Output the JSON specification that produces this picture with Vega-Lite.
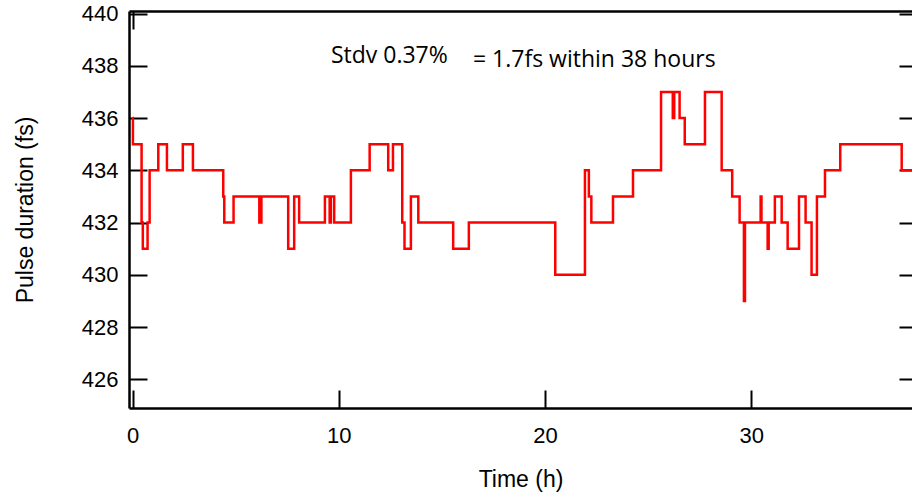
{
  "$schema": "https://vega.github.io/schema/vega-lite/v6.json",
  "autosize": {"type": "none"},
  "padding": {"left": 129, "top": 11, "right": 0, "bottom": 87},
  "width": 783,
  "height": 397,
  "background": "white",
  "config": {
    "view": {"stroke": null},
    "axis": {
      "grid": false,
      "domainColor": "black",
      "domainWidth": 2.5,
      "tickColor": "black",
      "tickWidth": 2,
      "labelFont": "Liberation Sans",
      "labelFontSize": 22,
      "labelColor": "black",
      "titleFont": "Liberation Sans",
      "titleFontSize": 23,
      "titleFontWeight": "normal",
      "titleColor": "black"
    }
  },
  "datasets": {
    "pulse": [
      {"t": 0, "v": 436}, {"t": 0.02, "v": 435}, {"t": 0.44, "v": 432}, {"t": 0.5, "v": 431},
      {"t": 0.73, "v": 432}, {"t": 0.83, "v": 434}, {"t": 1.25, "v": 435}, {"t": 1.67, "v": 434},
      {"t": 2.44, "v": 435}, {"t": 2.93, "v": 434}, {"t": 4.4, "v": 433}, {"t": 4.45, "v": 432},
      {"t": 4.9, "v": 433}, {"t": 6.15, "v": 432}, {"t": 6.25, "v": 433}, {"t": 7.55, "v": 431},
      {"t": 7.84, "v": 433}, {"t": 8.08, "v": 432}, {"t": 9.33, "v": 433}, {"t": 9.56, "v": 432},
      {"t": 9.62, "v": 433}, {"t": 9.78, "v": 432}, {"t": 10.59, "v": 434}, {"t": 11.5, "v": 435},
      {"t": 12.4, "v": 434}, {"t": 12.63, "v": 435}, {"t": 13.08, "v": 432}, {"t": 13.19, "v": 431},
      {"t": 13.5, "v": 433}, {"t": 13.86, "v": 432}, {"t": 15.55, "v": 431}, {"t": 16.31, "v": 432},
      {"t": 20.5, "v": 430}, {"t": 21.94, "v": 434}, {"t": 22.13, "v": 433}, {"t": 22.25, "v": 432},
      {"t": 23.3, "v": 433}, {"t": 24.27, "v": 434}, {"t": 25.63, "v": 437}, {"t": 26.2, "v": 436},
      {"t": 26.27, "v": 437}, {"t": 26.53, "v": 436}, {"t": 26.78, "v": 435}, {"t": 27.76, "v": 437},
      {"t": 28.57, "v": 434}, {"t": 29.08, "v": 433}, {"t": 29.44, "v": 432}, {"t": 29.65, "v": 429},
      {"t": 29.7, "v": 432}, {"t": 30.46, "v": 433}, {"t": 30.5, "v": 432}, {"t": 30.8, "v": 431},
      {"t": 30.85, "v": 432}, {"t": 31.15, "v": 433}, {"t": 31.48, "v": 432}, {"t": 31.77, "v": 431},
      {"t": 32.32, "v": 433}, {"t": 32.64, "v": 432}, {"t": 32.93, "v": 430}, {"t": 33.19, "v": 433},
      {"t": 33.58, "v": 434}, {"t": 34.32, "v": 435}, {"t": 37.3, "v": 434}, {"t": 38, "v": 434}
    ],
    "notes": [
      {"t": 9.62, "v": 438.12, "label": "Stdv 0.37%"},
      {"t": 16.51, "v": 437.97, "label": "= 1.7fs within 38 hours"}
    ]
  },
  "layer": [
    {
      "data": {"name": "pulse"},
      "mark": {"type": "line", "interpolate": "step-after", "color": "#ff0000", "strokeWidth": 2.5, "clip": true},
      "encoding": {
        "x": {
          "field": "t", "type": "quantitative",
          "scale": {"domain": [-0.17, 37.8], "nice": false, "zero": false},
          "axis": {"orient": "bottom", "title": "Time (h)", "values": [0, 10, 20, 30], "tickSize": -18, "labelPadding": 35, "titlePadding": 22, "format": "d"}
        },
        "y": {
          "field": "v", "type": "quantitative",
          "scale": {"domain": [424.9, 440.1], "nice": false, "zero": false},
          "axis": {"orient": "left", "title": "Pulse duration (fs)", "values": [426, 428, 430, 432, 434, 436, 438, 440], "tickSize": -18, "labelPadding": 29, "titlePadding": 44, "format": "d"}
        }
      }
    },
    {
      "data": {"name": "notes"},
      "mark": {"type": "text", "align": "left", "baseline": "alphabetic", "font": "Open Sans", "fontSize": 23, "color": "black"},
      "encoding": {
        "text": {"field": "label", "type": "nominal"},
        "x": {
          "field": "t", "type": "quantitative",
          "scale": {"domain": [-0.17, 37.8], "nice": false, "zero": false},
          "axis": {"orient": "top", "title": null, "labels": false, "values": [0], "tickSize": -18}
        },
        "y": {
          "field": "v", "type": "quantitative",
          "scale": {"domain": [424.9, 440.1], "nice": false, "zero": false},
          "axis": {"orient": "right", "title": null, "labels": false, "domain": false, "values": [426, 428, 430, 432, 434, 436, 438, 440], "tickSize": -13}
        }
      }
    }
  ],
  "resolve": {"axis": {"x": "independent", "y": "independent"}}
}
